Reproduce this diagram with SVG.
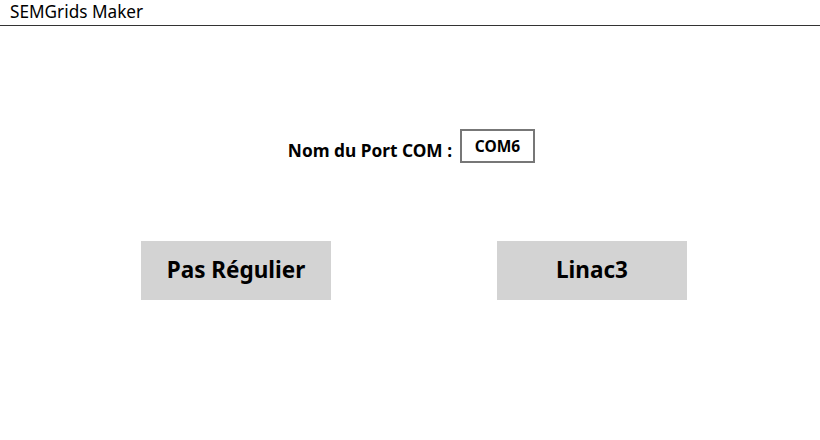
<svg xmlns="http://www.w3.org/2000/svg" width="820" height="440" viewBox="0 0 820 440">
<style>
text{font-family:"Noto Sans","Open Sans","Liberation Sans",sans-serif;fill:#000}
.btn{fill:#d3d3d3}
.bt{font-size:22.5px;font-weight:bold;text-anchor:middle}
</style>
<rect width="820" height="440" fill="#fff"/>
<g id="title">
<text x="10" y="18" font-size="17.2">SEMGrids Maker</text>
<line x1="0" y1="25.5" x2="820" y2="25.5" stroke="#333" stroke-width="1"/>
</g>
<g id="com">
<text x="452" y="157" font-size="17.3" font-weight="bold" text-anchor="end">Nom du Port COM :</text>
<rect x="461" y="130" width="73" height="32" fill="#fff" stroke="#777" stroke-width="2"/>
<text x="497.5" y="152" font-size="15.5" font-weight="bold" text-anchor="middle">COM6</text>
</g>
<g id="btn1">
<rect class="btn" x="141" y="241" width="190" height="59"/>
<text class="bt" x="236" y="278">Pas Régulier</text>
</g>
<g id="btn2">
<rect class="btn" x="497" y="241" width="190" height="59"/>
<text class="bt" x="592" y="278">Linac3</text>
</g>
</svg>
